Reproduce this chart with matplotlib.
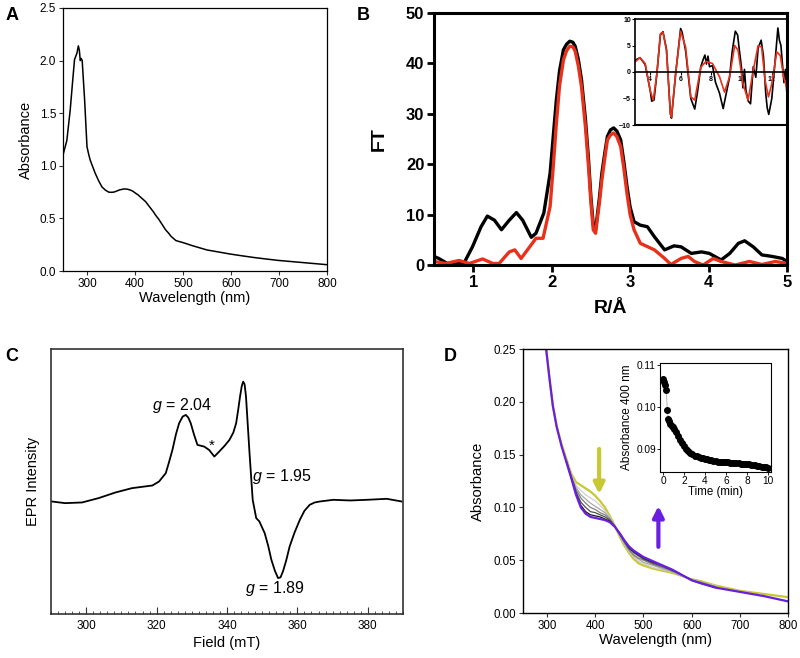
import numpy as np
import matplotlib.pyplot as plt

plt.rcParams['font.family'] = ['Liberation Sans', 'DejaVu Sans']
plt.rcParams['mathtext.fontset'] = 'custom'
plt.rcParams['mathtext.it'] = 'Liberation Sans:italic'
plt.rcParams['mathtext.rm'] = 'Liberation Sans'

# ---------------------------------------------------
# Data
# ---------------------------------------------------
# A: UV-vis spectrum
a_wl = [251, 258, 265, 270, 274, 279, 282, 284, 286, 288, 290, 292, 295, 300, 304, 307,
        312, 317, 324, 331, 338, 345, 350, 356, 362, 367, 372, 377, 384, 390, 395, 401,
        406, 412, 417, 422, 427, 432, 438, 443, 449, 454, 459, 464, 470, 475, 480, 485,
        492, 500, 510, 520, 535, 550, 575, 600, 625, 650, 675, 700, 750, 800]
a_abs = [1.12, 1.24, 1.53, 1.80, 2.01, 2.07, 2.14, 2.10, 2.00, 2.02, 2.00, 1.85, 1.63,
         1.18, 1.10, 1.05, 0.99, 0.93, 0.86, 0.80, 0.77, 0.75, 0.748, 0.75, 0.76, 0.77,
         0.775, 0.78, 0.778, 0.77, 0.76, 0.74, 0.725, 0.70, 0.68, 0.66, 0.63, 0.60, 0.565,
         0.53, 0.495, 0.46, 0.425, 0.39, 0.36, 0.33, 0.31, 0.29, 0.28, 0.27, 0.255, 0.24,
         0.22, 0.20, 0.18, 0.16, 0.143, 0.127, 0.113, 0.10, 0.08, 0.06]

# B: Fourier transform, data (black) and fit (red)
b_r_data = [0.5, 0.56, 0.67, 0.88, 0.99, 1.1, 1.18, 1.27, 1.36, 1.46, 1.55, 1.63, 1.74,
            1.8, 1.9, 1.98, 2.02, 2.06, 2.10, 2.15, 2.19, 2.23, 2.27, 2.30, 2.34, 2.38,
            2.43, 2.47, 2.50, 2.53, 2.56, 2.58, 2.61, 2.64, 2.68, 2.71, 2.75, 2.79, 2.83,
            2.88, 2.92, 2.96, 3.0, 3.05, 3.13, 3.22, 3.31, 3.44, 3.56, 3.65, 3.78, 3.91,
            4.01, 4.16, 4.27, 4.38, 4.46, 4.57, 4.68, 4.81, 4.94, 5.0]
b_ft_data = [1.7, 1.3, 0.3, 0.3, 3.6, 7.6, 9.7, 8.9, 7.0, 8.9, 10.4, 8.9, 5.5, 6.3, 10.3,
             18.2, 25.5, 32.8, 38.5, 42.7, 43.8, 44.4, 44.2, 43.4, 40.8, 36.8, 29.0, 20.9,
             13.5, 8.0, 7.0, 9.6, 13.5, 18.2, 22.5, 25.5, 26.8, 27.2, 26.6, 24.8, 20.5,
             15.6, 11.5, 8.6, 7.9, 7.6, 5.6, 3.0, 3.8, 3.6, 2.3, 2.6, 2.3, 1.0, 2.3, 4.3,
             4.8, 3.6, 2.0, 1.7, 1.3, 0.7]
b_r_fit = [0.5, 0.65, 0.82, 0.95, 1.12, 1.25, 1.33, 1.46, 1.53, 1.61, 1.72, 1.8, 1.89,
           1.98, 2.02, 2.06, 2.10, 2.15, 2.19, 2.23, 2.27, 2.30, 2.34, 2.38, 2.43, 2.47,
           2.50, 2.53, 2.56, 2.58, 2.61, 2.64, 2.68, 2.71, 2.75, 2.79, 2.83, 2.88, 2.92,
           2.96, 3.0, 3.05, 3.13, 3.31, 3.44, 3.52, 3.65, 3.74, 3.82, 3.93, 4.06, 4.16,
           4.34, 4.52, 4.68, 4.85, 5.0]
b_ft_fit = [0.7, 0.3, 0.9, 0.3, 1.2, 0.3, 0.3, 2.6, 3.0, 1.3, 3.6, 5.3, 5.3, 11.6, 19.5,
            28.1, 35.5, 40.7, 42.5, 43.4, 43.3, 42.4, 39.5, 35.4, 27.5, 19.5, 12.5, 7.0,
            6.3, 8.9, 12.5, 16.9, 21.5, 24.8, 25.8, 26.2, 25.5, 23.5, 19.2, 14.2, 10.0,
            7.0, 4.3, 3.0, 1.3, 0.1, 1.3, 1.7, 0.7, 0.0, 1.3, 0.7, 0.0, 0.7, 0.1, 0.7, 0.3]

# B inset: k-space EXAFS
k_data = [3.0, 3.33, 3.67, 4.0, 4.1, 4.25, 4.44, 4.67, 4.84, 5.07, 5.33, 5.4, 5.67, 6.0,
          6.1, 6.33, 6.67, 6.93, 7.1, 7.33, 7.5, 7.6, 7.7, 7.8, 7.9, 8.1, 8.3, 8.56, 8.8,
          8.9, 9.22, 9.4, 9.6, 9.75, 9.85, 10.0, 10.1, 10.2, 10.3, 10.45, 10.6, 10.78,
          10.95, 11.1, 11.3, 11.45, 11.6, 11.7, 11.8, 11.9, 12.0, 12.2, 12.4, 12.5, 12.6,
          12.8, 12.9, 13.0]
chi_data = [2.2, 2.7, 1.4, -3.5, -5.5, -5.3, -0.3, 7.0, 7.6, 4.3, -7.9, -8.7, -0.5, 8.2,
            7.5, 4.0, -5.0, -7.0, -4.0, 1.0, 2.5, 3.2, 1.5, 3.0, 1.0, 1.2, -2.0, -4.0, -6.9,
            -5.5, -1.0, 4.0, 7.7, 7.0, 4.5, 1.0, -3.0, 0.5, -3.5, -5.5, -6.0, 1.0, -1.0,
            4.5, 6.0, 3.0, -4.0, -6.8, -8.0, -6.5, -5.0, 1.5, 8.3, 6.0, 5.0, -2.0, 0.5, -4.5]
k_fit = [3.0, 3.33, 3.67, 4.0, 4.2, 4.44, 4.67, 4.84, 5.07, 5.33, 5.4, 5.67, 6.0, 6.33,
         6.67, 6.93, 7.33, 7.67, 8.1, 8.56, 8.89, 9.22, 9.56, 9.78, 10.1, 10.44, 10.78,
         11.1, 11.33, 11.56, 11.78, 12.0, 12.33, 12.56, 12.78, 13.0]
chi_fit = [1.9, 2.7, 1.6, -3.5, -5.3, -0.3, 7.2, 7.5, 4.1, -7.9, -8.5, -0.3, 7.7, 4.7,
           -4.7, -5.3, 0.9, 2.0, 1.6, -0.9, -3.8, -0.9, 5.0, 4.1, -2.2, -5.3, 0.3, 5.0,
           4.7, -1.6, -4.7, -2.2, 3.8, 3.1, -0.9, -3.1]

# C: EPR spectrum
c_field = [290.2, 294.0, 298.8, 303.5, 308.3, 313.0, 318.8, 320.7, 322.6, 323.5, 324.5,
           325.5, 326.4, 327.4, 328.3, 329.0, 329.7, 330.6, 331.6, 333.5, 334.9, 336.4,
           337.8, 339.3, 340.7, 341.8, 342.6, 343.2, 343.7, 344.2, 344.6, 345.0, 345.4,
           345.8, 346.4, 346.9, 347.3, 348.3, 349.2, 350.7, 351.7, 352.6, 353.6, 354.5,
           355.2, 355.9, 356.8, 357.8, 359.2, 360.7, 362.0, 363.5, 364.9, 366.4, 370.2,
           375.0, 379.7, 385.4, 389.6]
c_int = [0.03, -0.02, 0.0, 0.13, 0.30, 0.43, 0.51, 0.63, 0.88, 1.20, 1.58, 2.05, 2.38,
         2.58, 2.63, 2.55, 2.38, 2.05, 1.73, 1.68, 1.58, 1.38, 1.53, 1.70, 1.88, 2.10,
         2.38, 2.80, 3.18, 3.50, 3.63, 3.55, 3.18, 2.50, 1.48, 0.70, 0.08, -0.47, -0.57,
         -0.92, -1.30, -1.72, -2.05, -2.27, -2.25, -2.07, -1.75, -1.32, -0.90, -0.52,
         -0.25, -0.07, 0.0, 0.03, 0.08, 0.06, 0.08, 0.11, 0.03]

# D: time-resolved spectra
d_wl = [298, 305, 312, 320, 330, 340, 350, 360, 370, 380, 390, 400, 410, 420, 430, 440,
        450, 460, 470, 480, 490, 500, 520, 540, 560, 580, 600, 620, 650, 700, 750, 800]
d_yellow = [0.250, 0.222, 0.196, 0.177, 0.160, 0.146, 0.132, 0.124, 0.121, 0.118, 0.115,
            0.111, 0.106, 0.100, 0.092, 0.083, 0.073, 0.064, 0.057, 0.051, 0.047, 0.045,
            0.042, 0.040, 0.038, 0.035, 0.032, 0.030, 0.026, 0.021, 0.018, 0.015]
d_purple = [0.250, 0.222, 0.196, 0.176, 0.158, 0.143, 0.128, 0.112, 0.100, 0.094, 0.091,
            0.090, 0.089, 0.088, 0.086, 0.082, 0.076, 0.069, 0.063, 0.059, 0.056, 0.053,
            0.049, 0.045, 0.041, 0.036, 0.031, 0.028, 0.024, 0.020, 0.016, 0.011]
d_wl_mid = [340, 350, 360, 370, 380, 390, 400, 410, 420, 430, 440, 450, 460, 470, 480,
            490, 500, 520, 540, 560, 580, 600, 620, 650]
d_gray1 = [0.145, 0.131, 0.121, 0.116, 0.112, 0.109, 0.106, 0.102, 0.097, 0.091, 0.083,
           0.074, 0.065, 0.058, 0.053, 0.049, 0.047, 0.043, 0.041, 0.039, 0.035, 0.032, 0.029, 0.026]
d_gray2 = [0.145, 0.130, 0.119, 0.112, 0.108, 0.104, 0.101, 0.098, 0.095, 0.090, 0.083,
           0.074, 0.066, 0.059, 0.054, 0.051, 0.048, 0.045, 0.042, 0.039, 0.035, 0.032, 0.029, 0.025]
d_gray3 = [0.144, 0.130, 0.117, 0.109, 0.104, 0.100, 0.098, 0.095, 0.093, 0.089, 0.083,
           0.075, 0.067, 0.060, 0.055, 0.052, 0.050, 0.046, 0.043, 0.040, 0.036, 0.031, 0.029, 0.025]
d_gray4 = [0.144, 0.129, 0.115, 0.105, 0.100, 0.096, 0.095, 0.093, 0.091, 0.088, 0.082,
           0.075, 0.068, 0.061, 0.057, 0.054, 0.051, 0.047, 0.044, 0.040, 0.036, 0.031, 0.028, 0.024]
d_gray5 = [0.143, 0.128, 0.113, 0.102, 0.096, 0.093, 0.092, 0.091, 0.089, 0.087, 0.082,
           0.076, 0.069, 0.062, 0.058, 0.055, 0.052, 0.048, 0.045, 0.041, 0.036, 0.031, 0.028, 0.024]

# D inset: absorbance at 400 nm vs time
t_min = [0.0, 0.1, 0.2, 0.3, 0.4, 0.5, 0.6, 0.7, 0.8, 0.9, 1.0, 1.2, 1.4, 1.6, 1.8, 2.0,
         2.2, 2.4, 2.6, 2.8, 3.0, 3.2, 3.4, 3.6, 3.8, 4.0, 4.2, 4.4, 4.6, 4.8, 5.0, 5.2,
         5.4, 5.6, 5.8, 6.0, 6.2, 6.4, 6.6, 6.8, 7.0, 7.2, 7.4, 7.6, 7.8, 8.0, 8.2, 8.4,
         8.6, 8.8, 9.0, 9.2, 9.4, 9.6, 9.8, 10.0]
a400 = [0.1066, 0.1060, 0.1053, 0.1040, 0.0992, 0.0972, 0.0966, 0.0960, 0.0955, 0.0952,
        0.0948, 0.0940, 0.0932, 0.0922, 0.0914, 0.0907, 0.0900, 0.0895, 0.0891, 0.0887,
        0.0884, 0.0882, 0.0880, 0.0879, 0.0878, 0.0877, 0.0876, 0.0874, 0.0873, 0.0872,
        0.0871, 0.0870, 0.0869, 0.0869, 0.0868, 0.0868, 0.0868, 0.0867, 0.0867, 0.0867,
        0.0866, 0.0866, 0.0865, 0.0865, 0.0864, 0.0864, 0.0863, 0.0862, 0.0862, 0.0861,
        0.0860, 0.0859, 0.0858, 0.0857, 0.0856, 0.0855]

# ---------------------------------------------------
# Figure
# ---------------------------------------------------
fig = plt.figure(figsize=(8, 6.58), dpi=100)

def box(l, t, r, b):
    return [l / 800, 1 - b / 658, (r - l) / 800, (b - t) / 658]

# ---- A ----
axA = fig.add_axes(box(63, 8, 327, 271))
axA.plot(a_wl, a_abs, color='black', lw=1.1)
axA.set_xlim(250, 800)
axA.set_ylim(0, 2.5)
axA.set_xticks([300, 400, 500, 600, 700, 800])
axA.set_yticks([0.0, 0.5, 1.0, 1.5, 2.0, 2.5])
axA.set_yticklabels(['0.0', '0.5', '1.0', '1.5', '2.0', '2.5'])
axA.tick_params(labelsize=8.5, length=3, width=0.8, color='#333333', pad=2)
axA.set_xlabel('Wavelength (nm)', fontsize=10.5, labelpad=1)
axA.set_ylabel('Absorbance', fontsize=10.5, labelpad=5)
for s in axA.spines.values():
    s.set_linewidth(0.9)

# ---- B ----
axB = fig.add_axes(box(434, 13, 787, 265))
axB.plot(b_r_data, b_ft_data, color='black', lw=2.4, solid_joinstyle='round')
axB.plot(b_r_fit, b_ft_fit, color='#e8311a', lw=2.4, solid_joinstyle='round')
axB.set_xlim(0.5, 5)
axB.set_ylim(0, 50)
axB.set_xticks([1, 2, 3, 4, 5])
axB.set_yticks([0, 10, 20, 30, 40, 50])
axB.tick_params(labelsize=12, length=5, width=2, pad=2)
for lab in axB.get_xticklabels() + axB.get_yticklabels():
    lab.set_fontweight('bold')
for s in axB.spines.values():
    s.set_linewidth(2.2)
axB.set_ylabel('FT', fontsize=14, fontweight='bold')
axB.yaxis.set_label_coords(-0.13, 0.5)
axB.set_xlabel('R/Å', fontsize=14, fontweight='bold')
axB.xaxis.set_label_coords(0.5, -0.14)

# B inset
axBi = fig.add_axes(box(635, 19, 787, 125))
axBi.plot(k_data, chi_data, color='black', lw=1.2)
axBi.plot(k_fit, chi_fit, color='#e8311a', lw=1.2)
axBi.set_xlim(3, 13)
axBi.set_ylim(-10, 10)
axBi.spines['bottom'].set_position(('data', 0))
axBi.axhline(-10, color='black', lw=1.5, clip_on=False)
axBi.set_xticks([4, 6, 8, 10, 12])
axBi.set_yticks([-10, -5, 0, 5, 10])
axBi.tick_params(labelsize=5, length=2, width=0.8, pad=1)
for lab in axBi.get_xticklabels() + axBi.get_yticklabels():
    lab.set_fontweight('bold')
for s in axBi.spines.values():
    s.set_linewidth(1.2)
axBi.patch.set_alpha(0)

# ---- C ----
axC = fig.add_axes(box(51, 349, 403, 614))
axC.plot(c_field, c_int, color='black', lw=1.3, solid_joinstyle='round')
axC.set_xlim(290, 390)
axC.set_ylim(-3.35, 4.61)
axC.set_xticks([300, 320, 340, 360, 380])
axC.set_xticks(np.arange(290, 391, 2), minor=True)
axC.set_yticks([])
axC.tick_params(axis='x', which='major', direction='in', length=5, width=0.8,
                labelsize=8.5, pad=4, color='#333333')
axC.tick_params(axis='x', which='minor', direction='in', length=2.5, width=0.6,
                color='#333333')
for s in axC.spines.values():
    s.set_linewidth(1.2)
    s.set_color('#333333')
axC.set_xlabel('Field (mT)', fontsize=10.5, labelpad=3)
axC.set_ylabel('EPR Intensity', fontsize=10.5, labelpad=8)
axC.text(327.3, 2.9, r'$g$ = 2.04', fontsize=11.5, ha='center', va='center')
axC.text(335.8, 1.7, '*', fontsize=11, ha='center', va='center')
axC.text(347.0, 0.78, r'$g$ = 1.95', fontsize=11.5, ha='left', va='center')
axC.text(353.5, -2.57, r'$g$ = 1.89', fontsize=11.5, ha='center', va='center')

# ---- D ----
axD = fig.add_axes(box(523, 349, 788, 613))
axD.plot(d_wl, d_yellow, color='#c8c832', lw=1.6)
gray_sets = [d_gray1, d_gray2, d_gray3, d_gray4, d_gray5]
gray_cols = ['#cfcfcf', '#a8a8a8', '#808080', '#505050', '#151515']
for g, c in zip(gray_sets, gray_cols):
    axD.plot(d_wl_mid, g, color=c, lw=0.9)
axD.plot(d_wl, d_purple, color='#6a1fe0', lw=1.6)
axD.set_xlim(250, 800)
axD.set_ylim(0, 0.25)
axD.set_xticks([300, 400, 500, 600, 700, 800])
axD.set_yticks([0.00, 0.05, 0.10, 0.15, 0.20, 0.25])
axD.set_yticklabels(['0.00', '0.05', '0.10', '0.15', '0.20', '0.25'])
axD.tick_params(labelsize=8.3, length=3, width=0.8, color='#333333', pad=2)
for s in axD.spines.values():
    s.set_linewidth(1.0)
axD.set_xlabel('Wavelength (nm)', fontsize=10.7, labelpad=1)
axD.set_ylabel('Absorbance', fontsize=10.7, labelpad=6)
axD.annotate('', xy=(408, 0.110), xytext=(408, 0.158),
             arrowprops=dict(arrowstyle='-|>', color='#c8c832', lw=3, mutation_scale=16))
axD.annotate('', xy=(531, 0.104), xytext=(531, 0.060),
             arrowprops=dict(arrowstyle='-|>', color='#6a1fe0', lw=3, mutation_scale=16))

# D inset
axDi = fig.add_axes(box(660, 363, 771, 472))
axDi.plot(t_min, a400, color='#aaaaaa', lw=0.6)
axDi.plot(t_min, a400, 'o', color='black', ms=4)
axDi.set_xlim(-0.3, 10.3)
axDi.set_ylim(0.0845, 0.1105)
axDi.set_xticks([0, 2, 4, 6, 8, 10])
axDi.set_yticks([0.09, 0.10, 0.11])
axDi.tick_params(labelsize=7.3, length=2, width=0.6, pad=1)
for s in axDi.spines.values():
    s.set_linewidth(0.8)
axDi.set_xlabel('Time (min)', fontsize=8.3, labelpad=0)
axDi.set_ylabel('Absorbance 400 nm', fontsize=8.5, labelpad=2)

# ---- panel letters ----
for x, y, s in [(12, 15, 'A'), (363, 15, 'B'), (12, 357, 'C'), (450, 357, 'D')]:
    fig.text(x / 800, 1 - y / 658, s, fontsize=13, fontweight='bold', ha='center', va='center')

plt.savefig('out.png', dpi=100)
